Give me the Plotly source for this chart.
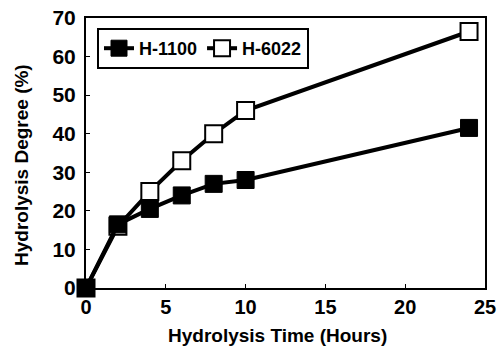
import plotly.graph_objects as go

time_h = [0, 2, 4, 6, 8, 10, 24]
h1100 = [0, 16.5, 20.5, 24, 27, 28, 41.5]
h6022 = [0, 16, 25, 33, 40, 46, 66.5]
x_ticks = [0, 5, 10, 15, 20, 25]
y_ticks = [0, 10, 20, 30, 40, 50, 60, 70]

FONT = "Liberation Sans, Arial, sans-serif"

W, H = 497, 349
L, R, T, B = 86, 12, 18, 61
PW, PH = W - L - R, H - T - B

fig = go.Figure()
fig.add_trace(go.Scatter(
    x=time_h, y=h6022, name="<b>H-6022</b>", mode="lines+markers",
    line=dict(color="black", width=4), cliponaxis=False,
    marker=dict(symbol="square", size=17, color="white", line=dict(color="black", width=2)),
))
fig.add_trace(go.Scatter(
    x=time_h, y=h1100, name="<b>H-1100</b>", mode="lines+markers",
    line=dict(color="black", width=4), cliponaxis=False,
    marker=dict(symbol="square", size=17, color="black", line=dict(color="black", width=1)),
))

fig.update_layout(
    width=W, height=H,
    margin=dict(l=L, r=R, t=T, b=B, autoexpand=False),
    paper_bgcolor="white", plot_bgcolor="white",
    font=dict(family=FONT, color="black", size=18),
    showlegend=True,
    legend=dict(
        x=11 / PW, y=(PH - 10) / PH, xanchor="left", yanchor="top",
        orientation="h", traceorder="reversed",
        bordercolor="black", borderwidth=2, bgcolor="white",
        font=dict(family=FONT, size=18, color="black"),
        itemwidth=30, tracegroupgap=0,
    ),
    xaxis=dict(
        range=[0, 25], tickvals=x_ticks,
        ticktext=[f"<b>{v}</b>" for v in x_ticks],
        showline=True, linecolor="black", linewidth=2, mirror=True,
        ticks="inside", ticklen=4, tickwidth=1, tickcolor="black",
        showgrid=False, zeroline=False, automargin=False,
        tickfont=dict(family=FONT, size=20), ticklabeloverflow="allow",
    ),
    yaxis=dict(
        range=[0, 70], tickvals=y_ticks,
        ticktext=[f"<b>{v}</b>" for v in y_ticks],
        showline=True, linecolor="black", linewidth=2, mirror=True,
        ticks="inside", ticklen=4, tickwidth=1, tickcolor="black",
        showgrid=False, zeroline=False, automargin=False,
        tickfont=dict(family=FONT, size=21), ticklabelstandoff=4,
        ticklabeloverflow="allow",
    ),
    annotations=[
        dict(text="<b>Hydrolysis Time (Hours)</b>", xref="paper", yref="paper",
             x=(277 - L) / PW, y=-(335 - (T + PH)) / PH, xanchor="center", yanchor="middle",
             showarrow=False, font=dict(family=FONT, size=19)),
        dict(text="<b>Hydrolysis Degree (%)</b>", xref="paper", yref="paper",
             x=-(L - 21) / PW, y=((T + PH) - 165) / PH, xanchor="center", yanchor="middle",
             textangle=-90, showarrow=False, font=dict(family=FONT, size=19)),
    ],
)

fig.write_html(
    "out.html",
    config={"displayModeBar": False},
    post_script="document.body.style.margin='0';document.body.style.overflow='hidden';",
)
